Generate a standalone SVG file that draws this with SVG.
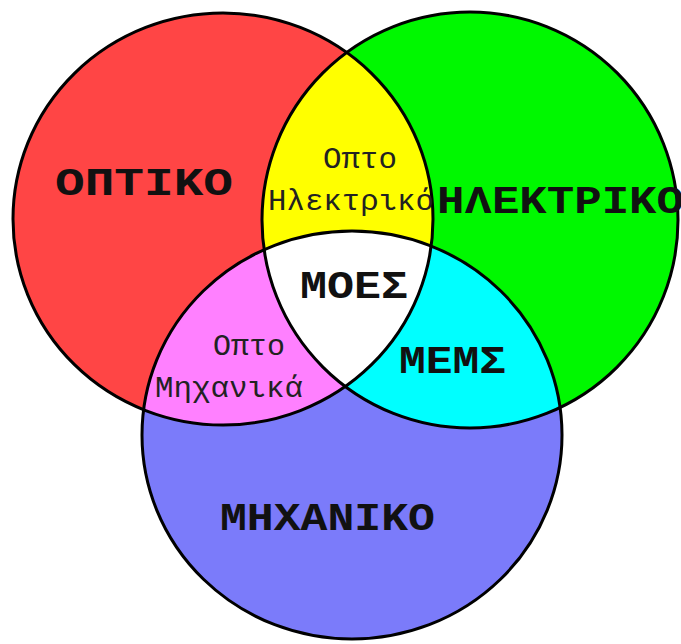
<svg xmlns="http://www.w3.org/2000/svg" width="681" height="644" viewBox="0 0 681 644">
<style>
.outline{fill:none;stroke:#000;stroke-width:3}
.big{font-family:"Liberation Mono","Courier New",monospace;font-weight:bold;font-size:38px;fill:#111}
.small{font-family:"Liberation Mono","Courier New",monospace;font-size:30px;fill:#222}
</style>
<defs>
<clipPath id="cRed"><ellipse cx="223" cy="219" rx="210" ry="206"/></clipPath>
<clipPath id="cGreen"><ellipse cx="470" cy="220" rx="208" ry="208"/></clipPath>
<clipPath id="cBlue"><ellipse cx="352" cy="435" rx="210" ry="204"/></clipPath>
</defs>
<rect width="681" height="644" fill="#fff"/>
<g id="optiko">
<ellipse cx="223" cy="219" rx="210" ry="206" fill="#FF4545"/>
</g>
<g id="ilektriko">
<ellipse cx="470" cy="220" rx="208" ry="208" fill="#00F800"/>
</g>
<g id="mixaniko">
<ellipse cx="352" cy="435" rx="210" ry="204" fill="#7B7BFA"/>
</g>
<g id="opto-ilektriko" clip-path="url(#cRed)">
<ellipse cx="470" cy="220" rx="208" ry="208" fill="#FFFF00"/>
</g>
<g id="opto-mixanika" clip-path="url(#cRed)">
<ellipse cx="352" cy="435" rx="210" ry="204" fill="#FF80FF"/>
</g>
<g id="mems" clip-path="url(#cGreen)">
<ellipse cx="352" cy="435" rx="210" ry="204" fill="#00FFFF"/>
</g>
<g id="moes" clip-path="url(#cRed)">
<g clip-path="url(#cGreen)">
<ellipse cx="352" cy="435" rx="210" ry="204" fill="#FFFFFF"/>
</g>
</g>
<g id="outlines">
<ellipse class="outline" cx="223" cy="219" rx="210" ry="206"/>
<ellipse class="outline" cx="470" cy="220" rx="208" ry="208"/>
<ellipse class="outline" cx="352" cy="435" rx="210" ry="204"/>
</g>
<g id="labels">
<text class="big" x="55" y="195" textLength="178" lengthAdjust="spacingAndGlyphs">ΟΠΤΙΚΟ</text>
<text class="big" x="437" y="213" textLength="247" lengthAdjust="spacingAndGlyphs">ΗΛΕΚΤΡΙΚΟ</text>
<text class="big" x="300" y="298" textLength="108" lengthAdjust="spacingAndGlyphs">ΜΟΕΣ</text>
<text class="big" x="399" y="373" textLength="107" lengthAdjust="spacingAndGlyphs">ΜΕΜΣ</text>
<text class="big" x="220" y="530" textLength="215" lengthAdjust="spacingAndGlyphs">ΜΗΧΑΝΙΚΟ</text>
<text class="small" x="323" y="168" textLength="74" lengthAdjust="spacingAndGlyphs">Οπτο</text>
<text class="small" x="268" y="210" textLength="166" lengthAdjust="spacingAndGlyphs">Ηλεκτρικό</text>
<text class="small" x="213" y="355" textLength="72" lengthAdjust="spacingAndGlyphs">Οπτο</text>
<text class="small" x="155" y="397" textLength="148" lengthAdjust="spacingAndGlyphs">Μηχανικά</text>
</g>
</svg>
